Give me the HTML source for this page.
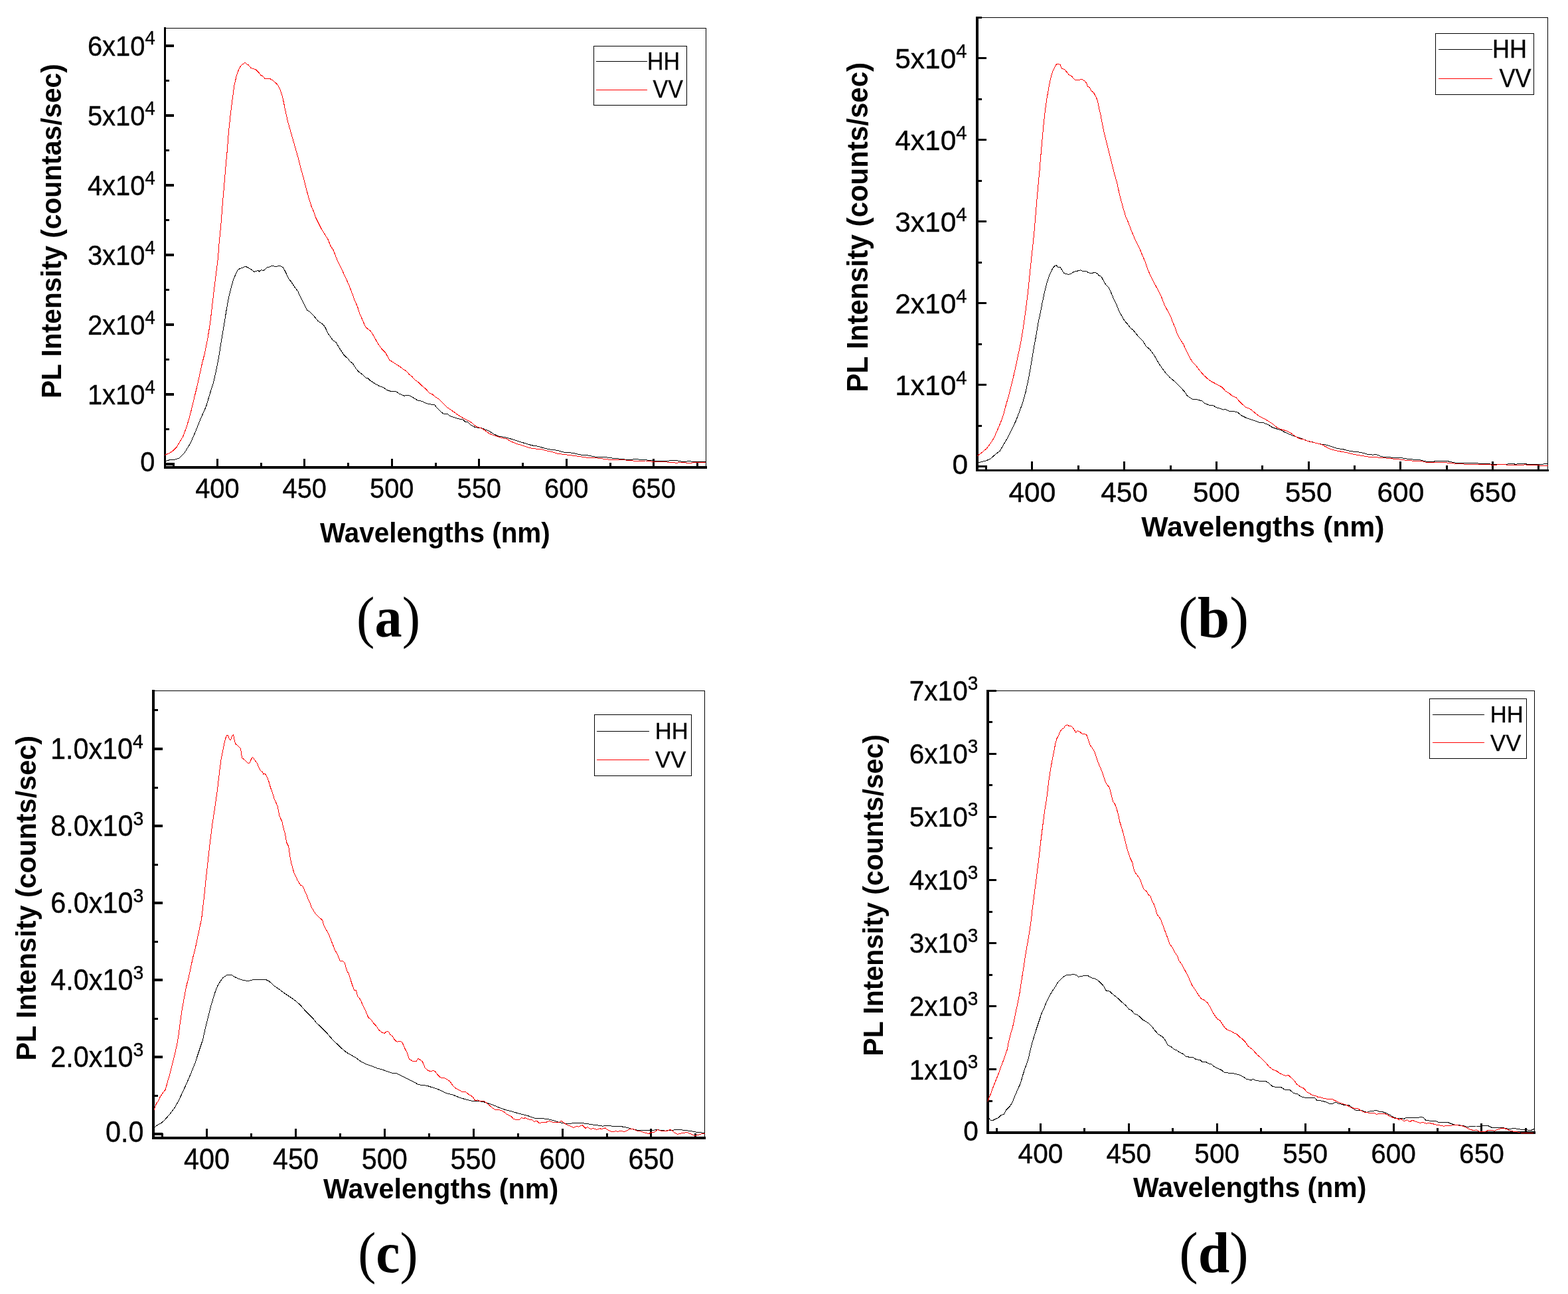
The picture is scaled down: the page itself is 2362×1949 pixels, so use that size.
<!DOCTYPE html>
<html lang="en">
<head>
<meta charset="utf-8">
<title>PL intensity spectra (HH and VV polarisation)</title>
<style>
html,body{margin:0;padding:0;background:#fff;}
body{width:2362px;height:1949px;overflow:hidden;}
svg{display:block;}
text{fill:#000;}
.t{font-family:"Liberation Sans", Arial, Helvetica, sans-serif;font-size:40px;stroke:#000;stroke-width:0.35px;}
.s{font-size:27.5px;}
.b{font-family:"Liberation Sans", Arial, Helvetica, sans-serif;font-size:41px;font-weight:bold;}
.l{font-family:"Liberation Sans", Arial, Helvetica, sans-serif;font-size:34px;stroke:#000;stroke-width:0.3px;}
.cap{font-family:"Liberation Serif", "Times New Roman", Times, serif;font-size:86px;font-weight:bold;}
.p{font-weight:normal;}
.c{fill:none;stroke-width:1;stroke-linejoin:round;shape-rendering:crispEdges;}
.ax{shape-rendering:crispEdges;fill:#000;}
.lg{shape-rendering:crispEdges;fill:#fff;stroke:#000;stroke-width:1.2;}
</style>
</head>
<body>
<svg xmlns="http://www.w3.org/2000/svg" width="2362" height="1949" viewBox="0 0 2362 1949" role="img" aria-label="Four photoluminescence spectra panels">
<rect x="0" y="0" width="2362" height="1949" fill="#fff"/>
<g id="panel-a">
<g class="ax">
<rect x="247.1" y="41.8" width="817.2" height="1.2"/>
<rect x="1063.1" y="41.8" width="1.2" height="664.2"/>
<rect x="247.1" y="40.9" width="2.9" height="665.1"/>
<rect x="247.1" y="702" width="817.9" height="4"/>
<rect x="248.6" y="66.8" width="13.8" height="4"/>
<rect x="248.6" y="171.8" width="13.8" height="4"/>
<rect x="248.6" y="276.9" width="13.8" height="4"/>
<rect x="248.6" y="381.9" width="13.8" height="4"/>
<rect x="248.6" y="487" width="13.8" height="4"/>
<rect x="248.6" y="592" width="13.8" height="4"/>
<rect x="248.6" y="697.1" width="13.8" height="4"/>
<rect x="248.6" y="119.8" width="6.4" height="3"/>
<rect x="248.6" y="224.8" width="6.4" height="3"/>
<rect x="248.6" y="329.9" width="6.4" height="3"/>
<rect x="248.6" y="434.9" width="6.4" height="3"/>
<rect x="248.6" y="540" width="6.4" height="3"/>
<rect x="248.6" y="645" width="6.4" height="3"/>
<rect x="325.9" y="690.7" width="3" height="13.3"/>
<rect x="457.3" y="690.7" width="3" height="13.3"/>
<rect x="588.8" y="690.7" width="3" height="13.3"/>
<rect x="720.2" y="690.7" width="3" height="13.3"/>
<rect x="851.7" y="690.7" width="3" height="13.3"/>
<rect x="983.1" y="690.7" width="3" height="13.3"/>
<rect x="260.2" y="696.7" width="3" height="7.3"/>
<rect x="391.6" y="696.7" width="3" height="7.3"/>
<rect x="523.1" y="696.7" width="3" height="7.3"/>
<rect x="654.5" y="696.7" width="3" height="7.3"/>
<rect x="786" y="696.7" width="3" height="7.3"/>
<rect x="917.5" y="696.7" width="3" height="7.3"/>
<rect x="1048.9" y="696.7" width="3" height="7.3"/>
</g>
<polyline class="c" stroke="#000" points="250.1,694.2 256.1,692.6 263.2,692.2 270.2,690 278.3,681.5 287.4,666.4 294.4,650.3 302.5,630.1 310.6,612 316.6,591.8 321.7,575.7 325.7,557.5 329.7,537.4 332.8,517.2 335.8,499 338.8,480.9 341.8,462.8 344.8,446.6 348.9,430.5 351.9,420.4 354.9,413.4 357.6,407.3 361,404.7 365,403.3 370.1,401.3 374.1,403.3 379.1,406.3 382.8,409.3 389.2,407.3 390.2,409.3 393.2,406.7 397.3,407.3 402.3,402.9 405.3,402.3 409.4,400.2 415.4,401.5 421.5,400.2 426.5,402.9 430.5,410.3 434.6,419.4 438.6,424.4 442.6,430.5 448.7,438.6 451.7,445.6 456.8,455.7 462.8,467.2 465.8,468.8 471.9,474.8 478.9,483.3 487,489 490,493.4 494.1,502.1 501.1,512.2 506.2,515.6 511.2,524.2 518.3,534.9 524.3,540.4 527.3,544.4 531.4,547.4 536.4,555.5 540.4,559.9 546.5,564.6 551.5,569.2 553.5,569.2 557.6,573.2 564.6,577.7 571.7,581.7 577.7,583.7 582.8,587.4 589.8,589.8 595.9,589.2 600.9,592.8 609,596.2 615,595.2 621.1,598.2 629.2,603.1 636.2,604.5 641.2,607.3 647.3,608.9 654.4,609.5 654.4,609.3 658.1,614.4 665.1,621 668.6,623.3 674.2,623.3 677.2,626.5 685.3,629.1 690.3,630.7 697.4,632.1 700.4,635.1 704.8,635.8 709.5,640.2 715.5,643.6 724.6,644.6 731.7,647.2 736.7,649.3 744.8,654.3 750.8,656.9 758.9,658.3 764.9,659.7 773,662 781.1,664.8 791.1,667.8 801.2,670.8 811.3,672.4 821.4,675.5 831.5,677.5 839.5,678.3 851.6,681.9 855.7,681.5 863.7,682.5 873.8,684.9 885.9,686 896,688 912.1,688.6 922.2,690 932.3,691 942.4,692.2 952.4,692.2 956.5,691.4 966.6,692.6 974.6,693 982.7,694 992.8,694.6 1004.9,694.6 1010.9,693.4 1019,693.6 1027.1,695.2 1033.1,695.4 1037.1,694.4 1045.2,695.6 1053.3,696 1057.3,695.2 1063.7,695.2"/>
<polyline class="c" stroke="#f00" points="248.1,685.2 254.1,683.1 260.2,679.5 266.2,673.5 270.2,666.4 275.3,658.3 280.3,645.2 284.4,632.1 288.4,617 292.4,599.9 296.5,583.7 300.5,565.6 304.5,547.4 308.6,531.3 312.6,511.1 316.6,486.9 319.6,460.7 322.7,434.5 325.7,410.3 328.7,386.1 329.7,370.7 332.8,338.4 335.2,308.2 337.4,282 339.8,253.7 342.2,227.5 344.2,201.3 346.9,175.1 349.9,150.9 352.9,128.7 355.9,115.6 358,108.6 361,102.1 364,97.7 366.6,96.3 369.2,94 371.5,96.9 374.1,97.7 377.7,102.1 381.1,103.5 385.2,104.5 389.2,108.6 392.6,113 396.3,115 398.7,118.2 406.3,118.4 410.4,120.7 417.4,126.7 420.5,131.7 423.5,138.8 426.5,149.9 429.5,165 433.6,183.2 437.6,197.3 441.6,211.4 445.7,225.5 449.7,239.6 453.7,255.7 457.8,269.9 461.8,286 464.8,297.1 468.9,310.2 471.9,317.2 475.9,328.3 479.9,336.4 484,344.5 489,352.5 494.1,360.6 498.1,370.7 502.1,376.7 508.2,392.2 513.2,402.3 519.3,415.4 525.3,428.5 530.4,441.6 534.4,452.7 538.4,461.7 542.4,473.8 546.5,482.9 550.5,492.6 557.6,498 560.6,502.1 564.6,509.1 569.7,518.2 575.7,526.3 580.8,531.3 586.8,542.4 591.8,545.4 597.9,549.5 602.9,552.5 607,555.9 612,558.9 617.1,564.6 620.1,566.6 625.1,572.2 630.2,575.7 635.2,580.7 641.2,585.7 647.3,592.4 651.3,593.8 655.4,597.4 656,597.8 662.1,601.9 668.1,607.9 674.2,614 680.2,618 686.3,622.4 692.3,626.5 698.4,630.1 704.4,633.1 708.5,635.1 714.5,640.2 718.6,643.2 724.6,644.6 730.7,648.3 736.7,652.9 742.8,655.3 748.8,657.1 754.8,659.3 762.9,661 769,664.4 777,668 787.1,671 799.2,674.9 807.3,676.1 815.3,676.5 823.4,678.9 831.5,680.5 839.5,683.1 851.6,684.7 861.7,686 871.8,687.4 881.9,688.8 889.9,690 898,689.8 908.1,691 920.2,692.6 932.3,692 942.4,693 952.4,693.8 962.5,694.8 972.6,694 982.7,695.2 992.8,695.6 1002.9,695.8 1012.9,696.6 1019,697.2 1027.1,696.2 1033.1,697 1043.2,697 1053.3,696.6 1063.7,696"/>
<text class="t" transform="translate(327.4 749.6) scale(0.995 1.085)" text-anchor="middle">400</text>
<text class="t" transform="translate(458.8 749.6) scale(0.995 1.085)" text-anchor="middle">450</text>
<text class="t" transform="translate(590.3 749.6) scale(0.995 1.085)" text-anchor="middle">500</text>
<text class="t" transform="translate(721.8 749.6) scale(0.995 1.085)" text-anchor="middle">550</text>
<text class="t" transform="translate(853.2 749.6) scale(0.995 1.085)" text-anchor="middle">600</text>
<text class="t" transform="translate(984.6 749.6) scale(0.995 1.085)" text-anchor="middle">650</text>
<text class="t" transform="translate(233.9 83.7) scale(1 1.085)" text-anchor="end">6x10<tspan class="s" dy="-15">4</tspan></text>
<text class="t" transform="translate(233.9 188.8) scale(1 1.085)" text-anchor="end">5x10<tspan class="s" dy="-15">4</tspan></text>
<text class="t" transform="translate(233.9 293.8) scale(1 1.085)" text-anchor="end">4x10<tspan class="s" dy="-15">4</tspan></text>
<text class="t" transform="translate(233.9 398.8) scale(1 1.085)" text-anchor="end">3x10<tspan class="s" dy="-15">4</tspan></text>
<text class="t" transform="translate(233.9 503.9) scale(1 1.085)" text-anchor="end">2x10<tspan class="s" dy="-15">4</tspan></text>
<text class="t" transform="translate(233.9 608.9) scale(1 1.085)" text-anchor="end">1x10<tspan class="s" dy="-15">4</tspan></text>
<text class="t" transform="translate(233.5 710.4) scale(0.995 1.085)" text-anchor="end">0</text>
<text class="b" transform="translate(482.1 816.8) scale(0.9865 1.05)">Wavelengths (nm)</text>
<text class="b" transform="translate(92.2 600.1) rotate(-90) scale(0.9937 1.035)">PL Intensity (countas/sec)</text>
<rect class="lg" x="894.3" y="69.6" width="140.5" height="88.6"/>
<g class="ax"><rect x="898.3" y="91.8" width="76.8" height="1.2"/><rect x="898.3" y="134.8" width="76.8" height="1.2" fill="#f00"/></g>
<text class="l" transform="translate(974.9 104.6) scale(1 1.08)">HH</text>
<text class="l" transform="translate(983.6 147) scale(1 1.08)">VV</text>
<text class="cap" transform="translate(537.1 958.6) scale(0.9572 1)"><tspan class="p">(</tspan>a<tspan class="p">)</tspan></text>
</g>
<g id="panel-b">
<g class="ax">
<rect x="1470" y="26" width="862.3" height="1.2"/>
<rect x="2331.1" y="26" width="1.2" height="684"/>
<rect x="1470" y="25.1" width="4" height="684.9"/>
<rect x="1470" y="707" width="863" height="3"/>
<rect x="1472" y="85.9" width="14.2" height="3"/>
<rect x="1472" y="208.9" width="14.2" height="3"/>
<rect x="1472" y="331.9" width="14.2" height="3"/>
<rect x="1472" y="454.9" width="14.2" height="3"/>
<rect x="1472" y="577.9" width="14.2" height="3"/>
<rect x="1472" y="700.9" width="14.2" height="3"/>
<rect x="1472" y="24.7" width="7.2" height="3"/>
<rect x="1472" y="147.7" width="7.2" height="3"/>
<rect x="1472" y="270.7" width="7.2" height="3"/>
<rect x="1472" y="393.7" width="7.2" height="3"/>
<rect x="1472" y="516.7" width="7.2" height="3"/>
<rect x="1472" y="639.7" width="7.2" height="3"/>
<rect x="1553.4" y="695" width="3" height="13.5"/>
<rect x="1692.1" y="695" width="3" height="13.5"/>
<rect x="1830.9" y="695" width="3" height="13.5"/>
<rect x="1969.6" y="695" width="3" height="13.5"/>
<rect x="2108.4" y="695" width="3" height="13.5"/>
<rect x="2247.1" y="695" width="3" height="13.5"/>
<rect x="1484" y="701" width="3" height="7.5"/>
<rect x="1622.7" y="701" width="3" height="7.5"/>
<rect x="1761.5" y="701" width="3" height="7.5"/>
<rect x="1900.2" y="701" width="3" height="7.5"/>
<rect x="2039" y="701" width="3" height="7.5"/>
<rect x="2177.7" y="701" width="3" height="7.5"/>
<rect x="2316.4" y="701" width="3" height="7.5"/>
</g>
<polyline class="c" stroke="#000" points="1473.7,697.1 1480.2,695.1 1486.2,693.7 1492.3,690.7 1499.3,684.6 1506.4,679 1512.4,668.5 1518.5,658.4 1524.5,646.3 1530.6,633.2 1535.6,620.1 1540.7,606 1544.7,591.9 1548.7,573.7 1551.7,557.6 1554.8,539.5 1557.8,521.3 1560.8,505.2 1563.8,487 1566.9,472.9 1569.9,456.8 1572.9,442.7 1576.9,426.5 1581,414.4 1585,405.4 1588,401.3 1591.1,399.3 1593.5,402.3 1597.1,402.3 1600.1,407.4 1602.8,411.4 1606.2,412.8 1610.2,413.4 1613.2,412.4 1617.3,409.4 1622.3,408.4 1627.4,406.8 1630.4,408.4 1636.4,408.8 1640.5,411 1646.5,411 1650.5,410.4 1653.6,412.8 1656,415.4 1658.6,416.1 1661.6,421.5 1665.7,428.6 1669.7,432.6 1673.7,440.7 1677.8,450.7 1681.8,458.8 1685.8,468.9 1689.9,475.9 1693.9,483 1698.9,488.6 1703,494.1 1707,497.1 1711,502.2 1716.1,508.2 1722.1,514.2 1726.2,521.3 1732.2,526.3 1738.3,534.4 1742.3,541.5 1746.3,548.5 1751.4,555.6 1756.4,562.6 1762.4,568.7 1768.5,573.7 1774.5,579.8 1780.6,585.8 1785.6,591.5 1788.3,595.9 1795.7,601 1802.8,601.6 1810.8,604 1813.9,607 1820.9,610 1828,611 1833,614.1 1839.1,615.5 1842.1,617.1 1846.1,616.5 1851.2,619.1 1858.2,619.7 1864.3,621.1 1870,625.8 1876.7,629.1 1883.5,631.4 1890.2,633.6 1897,636.3 1903.7,637 1910.4,639.7 1916.1,643.5 1922.8,645.8 1929.5,647.6 1935.2,650.9 1941.9,653.9 1948.6,656.6 1955.4,658.8 1962.1,661.1 1968.9,664 1975.6,665.5 1982.3,667.3 1989.1,668.9 1995.8,669.6 2002.6,671.4 2009.3,673.9 2016,675.7 2023.9,676.8 2029.5,678.6 2036.3,679.9 2045.2,680.6 2054.2,682.4 2059.8,684.2 2067.7,685.1 2073.3,684.6 2078.9,686.9 2084.6,688.5 2092.4,688.7 2099.2,689.6 2112.6,690 2121.6,691.4 2130.6,692.3 2139.6,693 2148.6,695.2 2157.6,695.4 2164.3,694.5 2180,694.5 2186.8,695.9 2193.5,697.4 2207,697.7 2225,697.7 2231.7,698.6 2242.9,698.8 2251.9,699.7 2260.9,699.2 2267.7,699.7 2274.4,698.3 2283.4,699.2 2292.4,698.3 2301.4,699.2 2310.3,699.9 2319.3,699.9 2326.1,698.8 2328.3,698.1 2331.7,699.2"/>
<polyline class="c" stroke="#f00" points="1472.5,686.6 1475.1,684.6 1480.2,680.6 1486.2,675.6 1492.3,667.5 1497.3,659.4 1502.3,648.3 1507.4,636.2 1511.4,625.1 1515.4,610 1519.5,595.9 1523.5,579.8 1527.5,563.6 1530.6,549.5 1533.6,535.4 1536.6,521.3 1539.6,505.2 1541.7,491.1 1543.7,476.9 1545.7,462.8 1547.7,446.7 1549.7,428.6 1551.7,408.4 1553.8,388.2 1555.8,370.1 1557.8,350.7 1559.8,326.5 1561.8,302.3 1563.8,280.1 1565.9,257.9 1567.9,233.7 1569.9,211.6 1571.9,189.4 1574.3,167.2 1576.9,149 1580,130.9 1583,116.8 1586,106.7 1589,100.7 1591.5,96.6 1594.1,96.2 1597.1,97.6 1599.5,103.1 1603.2,104.3 1607.2,108.7 1610.2,112.8 1614.2,114.8 1619.3,120.4 1624.3,120.2 1630.4,119.8 1634.4,122.4 1637,125.9 1638.4,129.9 1641.5,131.9 1643.9,136.9 1647.1,139 1650.5,145 1653.2,151.1 1655.6,163.2 1658,173.2 1660.6,187.4 1663.6,201.5 1666.7,213.6 1669.7,225.7 1672.7,237.8 1675.7,249.9 1678.8,262 1682.8,276.1 1685.8,290.2 1688.9,302.3 1691.9,313.4 1695.9,326.5 1699.9,335.6 1704,346.6 1709,358.7 1713,367.1 1717.1,375.1 1721.1,385.2 1725.1,394.3 1729.2,406.4 1734.2,417.5 1739.3,427.5 1744.3,436.6 1749.3,446.7 1754.4,459.8 1759.4,468.9 1763.5,476.9 1766.5,485 1770.5,494.1 1773.5,503.2 1776.6,509.2 1782.6,518.3 1786.6,527.4 1791.7,537.4 1795.7,544.5 1800.8,549.5 1806.8,557.6 1812.9,564.7 1818.9,570.3 1825,574.7 1831,577.8 1837.1,581.2 1841.1,583.4 1846.1,588.9 1852.2,592.9 1856.2,596.3 1862.3,598.9 1867.3,605 1870,607.6 1876.7,613.4 1883.5,616.1 1890.2,621.7 1897,626.9 1903.7,630.3 1910.4,634.1 1917.2,638.6 1923.9,644.2 1930.7,647.1 1937.4,648.7 1944.1,652.1 1950.9,657 1957.6,660.6 1964.4,662.2 1971.1,664.9 1977.8,666.2 1984.6,667.8 1991.3,669.6 1998.1,673.4 2004.8,676.8 2013.8,679 2022.8,680.6 2031.8,682.4 2040.7,684.6 2049.7,686.2 2061,688 2072.2,688.7 2083.4,689.6 2094.7,690.7 2105.9,691.8 2117.1,693.2 2128.4,694.1 2139.6,694.3 2148.6,696.3 2157.6,697 2166.6,696.3 2175.5,696.3 2184.5,697.7 2195.8,698.3 2207,699.2 2218.2,699.2 2229.5,699.2 2240.7,699.7 2251.9,700.4 2260.9,699.2 2269.9,700.1 2281.1,701 2290.1,700.6 2296.9,699.9 2308.1,700.6 2319.3,701 2331.7,701"/>
<text class="t" transform="translate(1554.9 755.7) scale(1.062 1.085)" text-anchor="middle">400</text>
<text class="t" transform="translate(1693.6 755.7) scale(1.062 1.085)" text-anchor="middle">450</text>
<text class="t" transform="translate(1832.4 755.7) scale(1.062 1.085)" text-anchor="middle">500</text>
<text class="t" transform="translate(1971.1 755.7) scale(1.062 1.085)" text-anchor="middle">550</text>
<text class="t" transform="translate(2109.9 755.7) scale(1.062 1.085)" text-anchor="middle">600</text>
<text class="t" transform="translate(2248.6 755.7) scale(1.062 1.085)" text-anchor="middle">650</text>
<text class="t" transform="translate(1456.6 102.9) scale(1.062 1.085)" text-anchor="end">5x10<tspan class="s" dy="-15">4</tspan></text>
<text class="t" transform="translate(1456.6 225.9) scale(1.062 1.085)" text-anchor="end">4x10<tspan class="s" dy="-15">4</tspan></text>
<text class="t" transform="translate(1456.6 348.9) scale(1.062 1.085)" text-anchor="end">3x10<tspan class="s" dy="-15">4</tspan></text>
<text class="t" transform="translate(1456.6 471.9) scale(1.062 1.085)" text-anchor="end">2x10<tspan class="s" dy="-15">4</tspan></text>
<text class="t" transform="translate(1456.6 594.9) scale(1.062 1.085)" text-anchor="end">1x10<tspan class="s" dy="-15">4</tspan></text>
<text class="t" transform="translate(1458.1 714.4) scale(1.062 1.085)" text-anchor="end">0</text>
<text class="b" transform="translate(1719.2 807.6) scale(1.0423 1.05)">Wavelengths (nm)</text>
<text class="b" transform="translate(1306.9 590.6) rotate(-90) scale(1.0256 1.085)">PL Intensity (counts/sec)</text>
<rect class="lg" x="2162.4" y="50.5" width="148.3" height="91.9"/>
<g class="ax"><rect x="2167.1" y="73.7" width="80.9" height="1.2"/><rect x="2167.1" y="117.8" width="80.9" height="1.2" fill="#f00"/></g>
<text class="l" transform="translate(2247.9 86.7) scale(1.06 1.12)">HH</text>
<text class="l" transform="translate(2258.5 130.8) scale(1.06 1.12)">VV</text>
<text class="cap" transform="translate(1775.1 958.6) scale(1.0081 1)"><tspan class="p">(</tspan>b<tspan class="p">)</tspan></text>
</g>
<g id="panel-c">
<g class="ax">
<rect x="229" y="1039.7" width="833.3" height="1.2"/>
<rect x="1061.1" y="1039.7" width="1.2" height="676.4"/>
<rect x="229" y="1038.8" width="4" height="677.3"/>
<rect x="229" y="1712.1" width="834" height="4"/>
<rect x="231" y="1126" width="14" height="4"/>
<rect x="231" y="1242" width="14" height="4"/>
<rect x="231" y="1358.1" width="14" height="4"/>
<rect x="231" y="1474.2" width="14" height="4"/>
<rect x="231" y="1590.2" width="14" height="4"/>
<rect x="231" y="1706.2" width="14" height="4"/>
<rect x="231" y="1068.4" width="7" height="3"/>
<rect x="231" y="1184.5" width="7" height="3"/>
<rect x="231" y="1300.5" width="7" height="3"/>
<rect x="231" y="1416.6" width="7" height="3"/>
<rect x="231" y="1532.6" width="7" height="3"/>
<rect x="231" y="1648.7" width="7" height="3"/>
<rect x="310" y="1700" width="3" height="14.1"/>
<rect x="443.9" y="1700" width="3" height="14.1"/>
<rect x="577.8" y="1700" width="3" height="14.1"/>
<rect x="711.6" y="1700" width="3" height="14.1"/>
<rect x="845.5" y="1700" width="3" height="14.1"/>
<rect x="979.4" y="1700" width="3" height="14.1"/>
<rect x="243.1" y="1706.9" width="3" height="7.2"/>
<rect x="377" y="1706.9" width="3" height="7.2"/>
<rect x="510.9" y="1706.9" width="3" height="7.2"/>
<rect x="644.7" y="1706.9" width="3" height="7.2"/>
<rect x="778.6" y="1706.9" width="3" height="7.2"/>
<rect x="912.5" y="1706.9" width="3" height="7.2"/>
<rect x="1046.4" y="1706.9" width="3" height="7.2"/>
</g>
<polyline class="c" stroke="#000" points="232.7,1697.7 237.1,1694.6 243.1,1691.6 249.2,1685.6 256.3,1677.5 263.3,1668 269.4,1657.3 275.4,1644.2 281.5,1631.1 287.5,1617 293.6,1601.9 297.6,1589.8 301.6,1577.7 305.7,1565.6 308.7,1551.5 311.7,1539.4 314.7,1527.3 317.8,1515.2 320.8,1505.1 323.8,1495 327.8,1484.9 331.9,1477.9 335.9,1472.8 341.9,1468.4 349,1468.4 354,1471.8 360.1,1474.4 366.1,1476.5 372.2,1477.3 377.2,1476.9 381.3,1475.5 390.3,1475.3 400.4,1475.5 405.5,1477.9 412.5,1484.5 420.6,1490 428.6,1496 434.7,1500.1 440.7,1504.1 446.8,1508.7 452.8,1514.2 458.9,1521.2 464.9,1527.3 471,1533.3 477,1541 483.1,1546.4 491.2,1554.5 497.2,1561.6 503.3,1568.6 509.3,1573.6 515.4,1579.7 521.4,1584.7 527.4,1588.2 535.5,1592.8 543.6,1598.9 551.6,1602.9 559.7,1605.5 567.8,1608.9 575.8,1611 583.9,1614 590,1616 598,1617 606.1,1621 614.2,1625.1 620.2,1628.1 626.2,1631.1 630,1633.7 638.4,1634.5 644.6,1635.7 650.9,1637.8 657.2,1639.7 663.5,1642.2 671.8,1646.4 682.3,1649.1 692.7,1653.3 703.2,1656.4 711.6,1658.3 719.9,1658.5 728.3,1659.6 734.6,1661.7 742.9,1664.4 751.3,1667.9 759.7,1671.1 768,1673.2 776.4,1675.7 784.8,1678 795.2,1680.5 804.6,1684 814,1684.3 824.5,1685.5 832.9,1687.4 839.1,1689.5 847.5,1691.6 855.9,1692.6 864.2,1691.6 874.7,1691.4 885.1,1692.6 893.5,1694.1 901.9,1695.1 908.1,1696.2 914.4,1695.3 922.8,1696.2 933.2,1696.4 941.6,1697.6 950,1699.9 959.4,1702.2 968.8,1702.2 981.3,1702.2 991.8,1701.8 1002.2,1703.1 1012.7,1702.5 1016.9,1701.4 1023.2,1701.4 1031.5,1702.5 1039.9,1703.5 1048.3,1705 1056.6,1706 1061.8,1706.6"/>
<polyline class="c" stroke="#f00" points="232.1,1671.8 234.1,1665.4 236.1,1661.4 238.1,1658.7 241.1,1652.3 245.2,1646.2 249.2,1641.2 252.2,1630.1 255.2,1620 258.3,1607.9 261.3,1595.8 264.3,1583.7 266.9,1571.6 269,1559.5 270.4,1547.4 272.4,1533.3 274.4,1519.2 277.4,1503.1 280.4,1486.9 284.5,1470.8 287.5,1456.7 290.5,1442.6 294.6,1426.5 297.6,1412.3 300.6,1398.2 303.6,1384.1 305.7,1365.7 308.1,1345.5 310.1,1325.4 312.1,1307.2 314.1,1289.1 316.1,1270.9 318.2,1254.8 320.2,1238.6 322.8,1222.5 324.8,1208.4 326.8,1194.3 328.8,1178.2 330.9,1160 332.9,1144.9 335.5,1131.8 337.5,1121.7 339.5,1112.6 341.5,1108 343.6,1107.2 345.6,1114 347.6,1114 349.6,1108.6 351.6,1106.6 353,1113.6 354.4,1120.1 358.1,1123.1 362.5,1127.3 364.5,1141.9 368.2,1143.9 371.2,1147.5 373.2,1149.3 376.2,1149.1 378.6,1142.9 380.7,1140.3 383.3,1144.3 387.3,1149.5 390.3,1157 392.4,1160.4 395.4,1163 396.8,1166.1 399.4,1165.5 402,1169.7 404.9,1177.2 407.5,1186.2 410.5,1194.3 412.9,1202.4 415.5,1208.4 418.2,1214.5 420.6,1227.6 422.6,1232.6 424.6,1236.6 426.6,1245.7 429.7,1256.8 431.7,1268.9 434.7,1274.9 436.7,1289.1 439.1,1301.2 442.8,1314.3 445.8,1320.3 447.8,1325.4 452.8,1333.4 455.9,1334.4 458.9,1341.5 461.9,1347.5 463.9,1353.6 467,1360 469.4,1366.7 475,1376 480.1,1381.1 485.7,1386.1 487.7,1393.2 491.2,1400.2 494.8,1406.3 499.6,1418.4 504.3,1430.5 508.3,1437.5 512.3,1447.6 516.4,1447 519.4,1450.7 522.4,1461.7 525.4,1466.8 528.5,1476.9 531.5,1485.9 533.5,1491.4 536.5,1492 538.5,1500.1 542.6,1505.1 546.6,1514.2 550.6,1522.2 554.7,1532.3 558.7,1535.3 562.7,1541.4 566.8,1545.4 570.8,1551.5 575.8,1555.1 578.9,1556.5 581.9,1553.9 584.9,1553.5 587.9,1558.5 591,1560.5 594,1565.6 598,1569.2 602.1,1568.2 606.1,1570.2 610.1,1579.7 613.1,1585.3 616.2,1594.8 621.2,1598.2 627.3,1598.4 630,1594.1 636.3,1598.9 640.5,1608.8 644.6,1612.1 648.8,1614 652,1612.7 655.1,1613.2 659.3,1618.8 663.5,1623 668.7,1623.4 672.9,1625.3 678.1,1629.3 682.3,1635.5 686.5,1639.1 690.6,1641.2 696.9,1644.9 701.1,1644.5 706.3,1648.5 711.6,1651.6 715.7,1657.5 719.9,1656.9 724.1,1659 729.3,1658.5 734.6,1662.7 740.8,1667.9 746.1,1671.7 750.2,1671.1 757.6,1673.6 763.8,1678.4 770.1,1681.5 773.3,1685.1 778.5,1686.8 782.7,1686.1 785.8,1683.6 788.9,1685.1 791,1683.6 795.2,1685.7 801.5,1686.8 804.6,1689.3 808.8,1688.4 811.9,1691.4 818.2,1690.5 821.3,1691 827.6,1688.2 830.8,1689.9 837,1690.3 841.2,1691 845.4,1688.2 850.6,1692 855.9,1695.1 860,1696.2 864.2,1698.7 868.4,1696.2 871.5,1697.2 876.8,1694.5 882,1699.3 885.1,1697.6 889.3,1700.4 894.5,1699.7 898.7,1701.4 904,1699.7 906,1700.8 911.3,1698.9 916.5,1702.5 921.7,1704.5 927,1703.9 931.1,1704.1 935.3,1703.5 940.6,1704.5 947.9,1701 954.1,1700.4 959.4,1703.1 964.6,1703.9 970.9,1706 977.1,1707.7 981.3,1705.6 985.5,1705.2 990.7,1701.4 994.9,1703.1 1004.3,1703.5 1009.6,1701.4 1012.7,1703.1 1016.9,1706.6 1021.1,1708.3 1027.3,1706.6 1034.7,1705.6 1039.9,1707.7 1046.2,1710.4 1050.3,1709.8 1056.6,1707.7 1061.8,1707.3"/>
<text class="t" transform="translate(311.5 1760.6) scale(1.034 1.09)" text-anchor="middle">400</text>
<text class="t" transform="translate(445.4 1760.6) scale(1.034 1.09)" text-anchor="middle">450</text>
<text class="t" transform="translate(579.3 1760.6) scale(1.034 1.09)" text-anchor="middle">500</text>
<text class="t" transform="translate(713.1 1760.6) scale(1.034 1.09)" text-anchor="middle">550</text>
<text class="t" transform="translate(847 1760.6) scale(1.034 1.09)" text-anchor="middle">600</text>
<text class="t" transform="translate(980.9 1760.6) scale(1.034 1.09)" text-anchor="middle">650</text>
<text class="t" transform="translate(215.9 1143.2) scale(1.034 1.09)" text-anchor="end">1.0x10<tspan class="s" dy="-15.3">4</tspan></text>
<text class="t" transform="translate(216.3 1259.2) scale(1.034 1.09)" text-anchor="end">8.0x10<tspan class="s" dy="-15.3">3</tspan></text>
<text class="t" transform="translate(216.3 1375.3) scale(1.034 1.09)" text-anchor="end">6.0x10<tspan class="s" dy="-15.3">3</tspan></text>
<text class="t" transform="translate(216.3 1491.4) scale(1.034 1.09)" text-anchor="end">4.0x10<tspan class="s" dy="-15.3">3</tspan></text>
<text class="t" transform="translate(216.3 1607.4) scale(1.034 1.09)" text-anchor="end">2.0x10<tspan class="s" dy="-15.3">3</tspan></text>
<text class="t" transform="translate(216.6 1719.9) scale(1.034 1.09)" text-anchor="end">0.0</text>
<text class="b" transform="translate(487 1804.6) scale(1.0085 1.05)">Wavelengths (nm)</text>
<text class="b" transform="translate(54 1597.6) rotate(-90) scale(1.0108 1.05)">PL Intensity (counts/sec)</text>
<rect class="lg" x="895.4" y="1076.4" width="146.2" height="92"/>
<g class="ax"><rect x="899.2" y="1100.9" width="78.7" height="1.2"/><rect x="899.2" y="1143.9" width="78.7" height="1.2" fill="#f00"/></g>
<text class="l" transform="translate(986.8 1112.7) scale(1.02 1.05)">HH</text>
<text class="l" transform="translate(987 1155.9) scale(1.02 1.05)">VV</text>
<text class="cap" transform="translate(539.2 1916) scale(0.9473 1)"><tspan class="p">(</tspan>c<tspan class="p">)</tspan></text>
</g>
<g id="panel-d">
<g class="ax">
<rect x="1486.1" y="1039.7" width="826.1" height="1.2"/>
<rect x="2311" y="1039.7" width="1.2" height="668"/>
<rect x="1486.1" y="1038.8" width="4" height="668.9"/>
<rect x="1486.1" y="1703.7" width="826.8" height="4"/>
<rect x="1488.1" y="1038.6" width="12.9" height="3"/>
<rect x="1488.1" y="1133.7" width="12.9" height="3"/>
<rect x="1488.1" y="1228.7" width="12.9" height="3"/>
<rect x="1488.1" y="1323.8" width="12.9" height="3"/>
<rect x="1488.1" y="1418.9" width="12.9" height="3"/>
<rect x="1488.1" y="1513.9" width="12.9" height="3"/>
<rect x="1488.1" y="1609" width="12.9" height="3"/>
<rect x="1488.1" y="1704.1" width="12.9" height="3"/>
<rect x="1488.1" y="1086.1" width="7.1" height="3"/>
<rect x="1488.1" y="1181.2" width="7.1" height="3"/>
<rect x="1488.1" y="1276.4" width="7.1" height="3"/>
<rect x="1488.1" y="1371.5" width="7.1" height="3"/>
<rect x="1488.1" y="1466.6" width="7.1" height="3"/>
<rect x="1488.1" y="1561.8" width="7.1" height="3"/>
<rect x="1488.1" y="1656.9" width="7.1" height="3"/>
<rect x="1565.9" y="1692.2" width="3" height="13.5"/>
<rect x="1698.8" y="1692.2" width="3" height="13.5"/>
<rect x="1831.7" y="1692.2" width="3" height="13.5"/>
<rect x="1964.6" y="1692.2" width="3" height="13.5"/>
<rect x="2097.5" y="1692.2" width="3" height="13.5"/>
<rect x="2230.4" y="1692.2" width="3" height="13.5"/>
<rect x="1499.5" y="1699" width="3" height="6.7"/>
<rect x="1632.4" y="1699" width="3" height="6.7"/>
<rect x="1765.3" y="1699" width="3" height="6.7"/>
<rect x="1898.2" y="1699" width="3" height="6.7"/>
<rect x="2031.1" y="1699" width="3" height="6.7"/>
<rect x="2164" y="1699" width="3" height="6.7"/>
<rect x="2296.9" y="1699" width="3" height="6.7"/>
</g>
<polyline class="c" stroke="#000" points="1490.1,1684.5 1492.1,1687.2 1495.1,1687.8 1499.2,1685.6 1504.2,1683.5 1508.2,1679.5 1512.3,1678.1 1515.3,1672.4 1521.3,1666.4 1525.4,1659.3 1529.4,1649.3 1533.4,1640.2 1537.5,1631.1 1540.5,1620 1544.5,1607.9 1548.6,1596.8 1551.6,1583.7 1554.6,1571.6 1557.6,1561.6 1560.7,1551.5 1564.7,1539.4 1568.7,1527.3 1572.8,1518.2 1576.8,1508.1 1580.8,1500.1 1584.8,1493.4 1589.9,1485.9 1593.9,1478.9 1599,1473.8 1604,1469.8 1608,1468.4 1612.1,1468.8 1615.1,1467.4 1621.1,1468.4 1624.2,1471.2 1628.2,1470.8 1633.2,1469.4 1639.3,1469.8 1644.3,1472.8 1650.4,1474.4 1655.4,1477.9 1660.5,1482.9 1663.5,1486.9 1666.5,1492.4 1670.5,1492.4 1674.6,1496 1679.6,1500.1 1685.7,1505.1 1689.7,1509.1 1695.7,1514.2 1700.8,1520.2 1703.8,1521.2 1708.9,1526.9 1713.9,1528.9 1717.9,1532.3 1721,1535.7 1726,1538.4 1731,1541.8 1735.1,1546 1740.1,1552.5 1745.1,1558.1 1751.2,1561.6 1755.2,1566.6 1759.3,1574.3 1764.3,1576.7 1768.3,1580.3 1772.4,1581.7 1777.4,1585.3 1782.4,1587.4 1786.5,1591.2 1791.5,1592.2 1797.6,1592.8 1801.6,1595.8 1807.7,1596.4 1811.7,1599.9 1816.7,1599.5 1820.8,1601.9 1824.8,1602.9 1828.8,1606.3 1834.9,1609.5 1839.9,1611.6 1843.9,1615 1849,1615.6 1852,1617 1856,1616.4 1861.1,1617.6 1866.1,1618.6 1872.2,1621.4 1877.2,1625.1 1880,1625.5 1884.2,1627.2 1887.3,1625.1 1892.5,1627.6 1900.9,1628.6 1907.2,1628.8 1911.4,1631.3 1916.6,1636.2 1923.9,1638 1929.1,1637.2 1935.4,1641.2 1942.7,1641.4 1949,1646.6 1954.2,1647.5 1959.5,1651.6 1968.9,1653.9 1973.1,1653.3 1980.4,1653.3 1983.5,1657.1 1992.9,1658.5 1998.2,1660.2 2003.4,1662.5 2007.6,1662.3 2011.7,1660.2 2017,1662.3 2024.3,1664.2 2031.6,1664.4 2035.8,1667.5 2040,1671.1 2044.2,1672.8 2051.5,1672.5 2058.8,1675.3 2064,1673.6 2068.2,1673.8 2072.4,1672.1 2077.6,1674.2 2082.9,1674.8 2089.1,1676.9 2093.3,1679 2098.5,1682.6 2103.8,1684.3 2111.1,1684.5 2115.3,1685.3 2117.4,1683.4 2126.8,1683.2 2137.2,1683.2 2141.4,1682.2 2144.5,1683.6 2147.7,1687.2 2154,1688.2 2162.3,1688.4 2168.6,1691 2174.9,1690.5 2181.1,1690.3 2185.3,1692.4 2191.6,1694.1 2197.9,1694.7 2204.1,1695.6 2209.4,1697.2 2216.7,1696.8 2223,1696 2231.3,1696.2 2235.5,1695.1 2241.8,1695.6 2248.1,1698.9 2256.4,1698.7 2264.8,1698.7 2273.2,1700.4 2281.5,1699.5 2289.9,1701 2298.3,1701.8 2306.6,1702.5 2310.8,1700.4"/>
<polyline class="c" stroke="#f00" points="1487.7,1658.7 1492.1,1648.3 1496.1,1637.2 1500.2,1627.1 1504.2,1617 1508.2,1605.9 1511.3,1597.8 1514.3,1588.8 1517.3,1580.7 1519.3,1569.6 1522.3,1557.5 1525.4,1547.4 1528,1535.3 1530.4,1523.2 1533.4,1509.1 1536.1,1495 1538.5,1478.9 1541.1,1462.8 1543.5,1446.6 1546.1,1430.5 1549,1414.4 1551.6,1398.2 1553.6,1384.1 1555,1369.7 1557,1355.6 1559,1339.5 1561.1,1323.3 1563.1,1307.2 1565.1,1291.1 1567.1,1272.9 1569.1,1256.8 1571.1,1240.7 1573.2,1224.5 1575.8,1208.4 1577.8,1194.3 1579.8,1176.1 1582.4,1160 1584.8,1145.9 1587.3,1133.8 1589.9,1119.7 1591.9,1112.6 1594.5,1108 1596.9,1101.9 1599.4,1098.5 1602,1097.1 1604.6,1093.5 1607.4,1091.5 1610.1,1093.5 1613.5,1093.5 1617.1,1097.5 1620.7,1103.2 1623.2,1100.5 1626.2,1102.1 1630.2,1105.2 1634.2,1105.2 1637.3,1107.6 1639.3,1113.6 1642.3,1122.7 1645.3,1126.7 1648.4,1131.4 1651.4,1139.8 1654.4,1148.9 1657.4,1156 1660.5,1163 1663.1,1171.1 1665.5,1178.6 1668.5,1182.8 1671.1,1185.8 1673.6,1195.3 1676.6,1207.4 1679.6,1211.4 1682.2,1218.5 1684.7,1227.6 1686.7,1237.6 1689.7,1246.7 1692.7,1257.8 1695.7,1269.9 1697.8,1278 1700.2,1286 1702.8,1293.1 1705.8,1299.1 1708.2,1310.2 1710.9,1315.3 1713.9,1319.3 1716.9,1323.3 1719.9,1331.4 1723,1339.1 1727,1342.5 1730,1347.5 1733,1349.9 1735.1,1356.6 1738.1,1361.6 1740.5,1368.7 1743.1,1377.1 1748.2,1384.1 1751.2,1392.2 1754.6,1401.3 1758.3,1411.3 1761.7,1421.4 1766.3,1427.5 1770.4,1435.5 1773.4,1439.6 1776,1447 1780.4,1452.7 1784.5,1460.7 1789.5,1469.8 1792.5,1476.9 1795.6,1483.9 1800.6,1491 1805.6,1499 1809.7,1504.5 1813.7,1506.1 1818.7,1510.1 1823.8,1518.2 1827.8,1526.3 1832.9,1533.7 1837.9,1537.4 1841.9,1543.4 1845,1547.8 1849,1551.1 1854,1553.1 1859.1,1555.9 1863.1,1557.5 1867.1,1561.6 1872.2,1565.6 1876.2,1569.6 1880,1575.5 1887.3,1581.2 1893.6,1588.5 1899.9,1593.7 1906.1,1600 1912.4,1607.3 1917.6,1611.1 1923.9,1613.6 1927.1,1616.3 1932.3,1618.8 1936.5,1620.3 1940.6,1619.2 1944.8,1623 1950.1,1628.2 1953.2,1632.8 1958.4,1636.6 1963.7,1639.1 1968.9,1644.9 1973.1,1647 1977.2,1649.8 1982.5,1650.6 1985.6,1652.7 1989.8,1652.9 1994,1654.4 1999.2,1655.2 2006.5,1655.4 2011.7,1658.1 2018,1661 2024.3,1663.1 2030.6,1665.4 2035.8,1668.6 2041,1669.4 2045.2,1669.6 2049.4,1672.1 2053.6,1674.8 2058.8,1675.7 2064,1676.5 2070.3,1676.5 2073.4,1678.2 2078.7,1677.4 2084.9,1677.4 2089.1,1678.4 2093.3,1681.1 2099.6,1684 2104.8,1684.3 2106.9,1686.3 2111.1,1685.7 2115.3,1688.9 2119.4,1686.8 2123.6,1689.5 2127.8,1687.4 2133,1689.3 2139.3,1691.4 2143.5,1690.3 2148.7,1692.4 2152.9,1691.4 2158.1,1692.6 2163.4,1694.1 2169.6,1695.1 2174.9,1696.2 2181.1,1695.1 2186.4,1695.1 2191.6,1694.1 2197.9,1695.1 2204.1,1696.2 2209.4,1698.7 2214.6,1701.4 2219.8,1702.5 2224,1701.8 2228.2,1704.1 2233.4,1704.5 2237.6,1704.1 2241.8,1702.5 2249.1,1702.5 2251.2,1703.5 2255.4,1701.4 2260.6,1699.7 2265.8,1699.3 2271.1,1701.4 2276.3,1703.5 2281.5,1704.5 2285.7,1705 2289.9,1706 2298.3,1706.2 2309.8,1706.2"/>
<text class="t" transform="translate(1567.4 1751.5) scale(1.014 1.085)" text-anchor="middle">400</text>
<text class="t" transform="translate(1700.3 1751.5) scale(1.014 1.085)" text-anchor="middle">450</text>
<text class="t" transform="translate(1833.2 1751.5) scale(1.014 1.085)" text-anchor="middle">500</text>
<text class="t" transform="translate(1966.1 1751.5) scale(1.014 1.085)" text-anchor="middle">550</text>
<text class="t" transform="translate(2099 1751.5) scale(1.014 1.085)" text-anchor="middle">600</text>
<text class="t" transform="translate(2231.9 1751.5) scale(1.014 1.085)" text-anchor="middle">650</text>
<text class="t" transform="translate(1473.2 1055.1) scale(1.014 1.085)" text-anchor="end">7x10<tspan class="s" dy="-15">3</tspan></text>
<text class="t" transform="translate(1473.2 1150.2) scale(1.014 1.085)" text-anchor="end">6x10<tspan class="s" dy="-15">3</tspan></text>
<text class="t" transform="translate(1473.2 1245.2) scale(1.014 1.085)" text-anchor="end">5x10<tspan class="s" dy="-15">3</tspan></text>
<text class="t" transform="translate(1473.2 1340.3) scale(1.014 1.085)" text-anchor="end">4x10<tspan class="s" dy="-15">3</tspan></text>
<text class="t" transform="translate(1473.2 1435.4) scale(1.014 1.085)" text-anchor="end">3x10<tspan class="s" dy="-15">3</tspan></text>
<text class="t" transform="translate(1473.2 1530.4) scale(1.014 1.085)" text-anchor="end">2x10<tspan class="s" dy="-15">3</tspan></text>
<text class="t" transform="translate(1473.2 1625.5) scale(1.014 1.085)" text-anchor="end">1x10<tspan class="s" dy="-15">3</tspan></text>
<text class="t" transform="translate(1473.8 1717.6) scale(1.014 1.085)" text-anchor="end">0</text>
<text class="b" transform="translate(1707 1802.5) scale(0.9999 1.05)">Wavelengths (nm)</text>
<text class="b" transform="translate(1330 1590.7) rotate(-90) scale(1.0004 1.055)">PL Intensity (counts/sec)</text>
<rect class="lg" x="2153.4" y="1052.3" width="146.2" height="89.9"/>
<g class="ax"><rect x="2158.2" y="1075.8" width="77.8" height="1.2"/><rect x="2158.2" y="1117.8" width="77.8" height="1.2" fill="#f00"/></g>
<text class="l" transform="translate(2244.8 1087.8) scale(1.02 1.05)">HH</text>
<text class="l" transform="translate(2245.1 1130.8) scale(1.02 1.05)">VV</text>
<text class="cap" transform="translate(1776.2 1916) scale(0.9938 1)"><tspan class="p">(</tspan>d<tspan class="p">)</tspan></text>
</g>
</svg>
</body>
</html>
